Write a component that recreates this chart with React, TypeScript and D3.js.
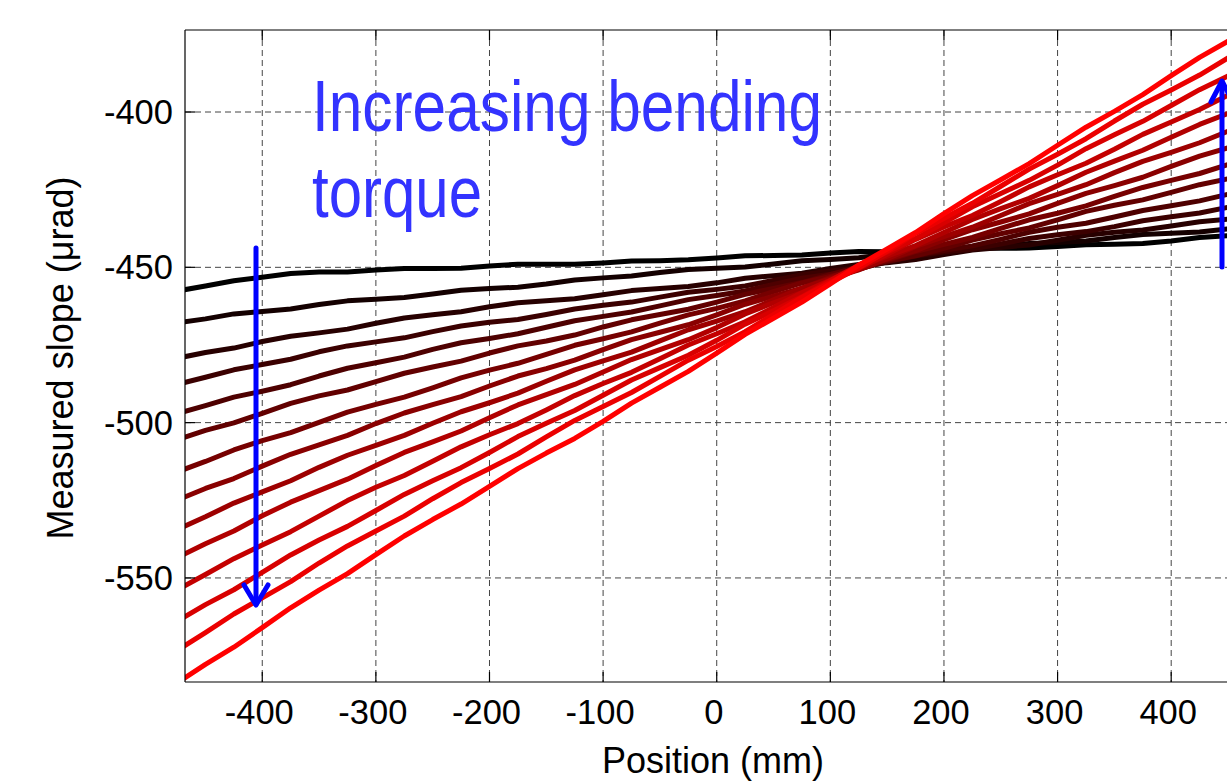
import React from "react";
import * as d3 from "d3";

const positions = [-470, -450, -425, -400, -375, -350, -325, -300, -275, -250, -225, -200, -175, -150, -125, -100, -75, -50, -25, 0, 25, 50, 75, 100, 125, 150, 175, 200, 225, 250, 275, 300, 325, 350, 375, 400, 425, 450];

const s1 = [-457.3, -456.0, -454.3, -453.2, -452.0, -451.5, -451.5, -450.9, -450.4, -450.4, -450.3, -449.6, -449.0, -449.0, -449.0, -448.6, -448.0, -447.9, -447.6, -447.0, -446.3, -446.2, -446.0, -445.4, -444.9, -445.0, -444.9, -444.4, -443.9, -443.9, -443.8, -443.3, -442.7, -442.6, -442.3, -441.5, -440.4, -439.8];
const s2 = [-467.6, -466.6, -465.0, -464.2, -463.4, -462.0, -460.8, -460.3, -459.7, -458.6, -457.4, -456.8, -456.4, -455.4, -454.1, -453.4, -452.8, -451.7, -450.7, -450.3, -449.9, -448.9, -447.9, -447.5, -446.9, -445.8, -444.9, -444.6, -444.2, -443.2, -442.3, -442.0, -441.5, -440.4, -439.4, -439.0, -438.6, -437.6];
const s3 = [-478.9, -477.4, -476.0, -473.9, -472.2, -471.1, -469.9, -468.0, -466.3, -465.3, -464.3, -462.7, -461.4, -460.8, -460.1, -458.8, -457.5, -456.8, -456.2, -455.0, -453.5, -452.7, -451.9, -450.4, -449.1, -448.5, -447.5, -445.9, -444.4, -443.6, -442.8, -441.3, -439.7, -438.7, -438.0, -436.7, -435.3, -434.5];
const s4 = [-487.2, -485.4, -483.0, -481.3, -479.6, -477.2, -475.3, -474.0, -472.7, -470.7, -468.9, -467.7, -466.8, -465.2, -463.4, -462.2, -461.2, -459.6, -458.0, -457.1, -456.0, -454.2, -452.4, -451.2, -450.1, -448.3, -446.4, -445.1, -444.1, -442.5, -440.7, -439.5, -438.5, -436.9, -435.0, -433.7, -432.5, -430.7];
const s5 = [-496.6, -494.5, -491.8, -489.9, -487.8, -485.0, -482.5, -480.7, -478.9, -476.4, -474.3, -472.9, -471.4, -469.3, -467.2, -465.8, -464.4, -462.4, -460.4, -459.1, -457.6, -455.5, -453.5, -452.2, -450.5, -448.2, -446.1, -444.6, -443.1, -441.0, -438.7, -437.1, -435.8, -433.8, -431.7, -430.2, -428.6, -426.5];
const s6 = [-504.9, -502.5, -500.1, -497.0, -493.8, -491.4, -489.5, -486.8, -484.1, -482.1, -480.2, -477.6, -475.3, -473.7, -471.8, -469.2, -466.9, -465.2, -463.5, -461.2, -458.7, -456.8, -454.9, -452.4, -449.9, -448.0, -446.3, -443.9, -441.2, -439.2, -437.3, -434.7, -432.0, -430.0, -428.3, -425.9, -423.4, -421.5];
const s7 = [-515.2, -512.5, -508.8, -505.8, -503.2, -499.9, -496.6, -494.1, -491.8, -488.8, -485.6, -483.1, -480.9, -478.0, -475.1, -473.0, -470.8, -468.0, -465.3, -463.2, -460.8, -457.8, -455.0, -452.9, -450.7, -447.8, -444.9, -442.6, -440.4, -437.5, -434.7, -432.6, -430.2, -427.2, -424.3, -422.0, -419.8, -416.9];
const s8 = [-524.2, -521.2, -518.0, -514.0, -510.2, -507.2, -504.1, -500.3, -496.9, -494.2, -491.6, -488.2, -485.0, -482.6, -479.9, -476.5, -473.3, -470.9, -468.5, -465.3, -461.9, -459.3, -456.7, -453.3, -450.0, -447.4, -444.6, -441.1, -437.9, -435.4, -432.8, -429.4, -426.2, -423.7, -421.0, -417.5, -414.2, -411.5];
const s9 = [-533.6, -530.3, -525.9, -522.3, -518.7, -514.4, -510.5, -507.3, -504.1, -500.2, -496.5, -493.6, -490.5, -486.7, -483.0, -480.1, -477.3, -473.7, -470.1, -467.3, -464.3, -460.5, -456.7, -453.7, -450.8, -447.2, -443.3, -440.1, -437.1, -433.3, -429.5, -426.5, -423.4, -419.5, -415.9, -413.0, -409.9, -406.2];
const s10 = [-542.6, -539.0, -534.9, -530.0, -525.6, -521.9, -518.2, -513.8, -509.6, -506.2, -502.7, -498.4, -494.3, -491.0, -487.7, -483.7, -479.7, -476.5, -473.3, -469.4, -465.0, -461.4, -458.1, -454.1, -449.9, -446.4, -443.0, -438.8, -434.6, -431.1, -427.8, -423.7, -419.4, -415.8, -412.3, -408.1, -404.0, -400.5];
const s11 = [-552.9, -548.9, -543.8, -539.4, -535.1, -530.1, -525.1, -520.8, -517.0, -512.4, -507.8, -503.9, -500.3, -495.9, -491.3, -487.4, -483.8, -479.4, -475.0, -471.4, -467.5, -462.9, -458.2, -454.3, -450.4, -445.8, -441.0, -437.0, -433.3, -428.8, -424.1, -420.2, -416.5, -412.0, -407.2, -403.2, -399.2, -394.6];
const s12 = [-562.9, -558.6, -553.8, -548.2, -542.6, -537.8, -533.4, -528.3, -523.1, -518.7, -514.5, -509.6, -504.5, -500.2, -496.1, -491.2, -486.3, -482.3, -478.3, -473.5, -468.3, -464.0, -459.5, -454.3, -449.3, -445.1, -440.8, -435.7, -430.5, -426.2, -422.0, -417.1, -411.8, -407.3, -403.0, -397.9, -392.8, -388.4];
const s13 = [-572.2, -567.6, -561.6, -556.4, -551.2, -545.2, -539.7, -534.9, -530.1, -524.5, -519.3, -514.8, -510.1, -504.6, -499.3, -494.8, -490.3, -485.1, -479.9, -475.5, -470.7, -465.2, -459.7, -454.9, -450.2, -444.8, -439.1, -434.2, -429.4, -423.9, -418.4, -413.6, -408.6, -402.9, -397.5, -392.9, -388.1, -382.6];
const s14 = [-582.6, -577.8, -572.3, -566.0, -559.6, -553.9, -548.6, -542.5, -536.5, -531.2, -526.2, -520.5, -514.8, -509.8, -505.1, -499.6, -493.7, -488.6, -483.5, -477.6, -471.6, -466.4, -461.2, -455.3, -449.3, -444.1, -438.8, -432.7, -426.9, -421.8, -416.6, -410.7, -404.9, -399.8, -394.4, -388.3, -382.4, -377.2];

const allSeries = [s1, s2, s3, s4, s5, s6, s7, s8, s9, s10, s11, s12, s13, s14];

const xTicks = [-400, -300, -200, -100, 0, 100, 200, 300, 400];
const yTicks = [-550, -500, -450, -400];

const W = 1227;
const H = 782;
const left = 185;
const right = 1228;
const top = 30;
const bottom = 682;

export default function App() {
  const x = d3.scaleLinear().domain([-468, 450]).range([left, right]);
  const y = d3.scaleLinear().domain([-583.5, -373.6]).range([bottom, top]);
  const line = d3
    .line<number>()
    .x((_, i) => x(positions[i]))
    .y((d) => y(d));
  const color = (i: number) => d3.rgb(Math.round((255 * i) / (allSeries.length - 1)), 0, 0).toString();
  const font = "'Liberation Sans', Arial, Helvetica, sans-serif";

  return (
    <svg
      width={W}
      height={H}
      style={{ position: "absolute", left: 0, top: 0, background: "#fff" }}
    >
      <defs>
        <clipPath id="plot">
          <rect x={left} y={top} width={right - left} height={bottom - top} />
        </clipPath>
      </defs>
      <rect x={0} y={0} width={W} height={H} fill="#fff" />
      <g stroke="#444" strokeWidth={1} strokeDasharray="6,4">
        {xTicks.map((t) => (
          <line key={"gx" + t} x1={x(t)} x2={x(t)} y1={top} y2={bottom} />
        ))}
        {yTicks.map((t) => (
          <line key={"gy" + t} x1={left} x2={right} y1={y(t)} y2={y(t)} />
        ))}
      </g>
      <g clipPath="url(#plot)" fill="none" strokeLinejoin="round" strokeLinecap="round">
        {allSeries.map((s, i) => (
          <path key={i} d={line(s) || ""} stroke={color(i)} strokeWidth={5} />
        ))}
      </g>
      <g stroke="#000" strokeWidth={1.2}>
        <line x1={left} x2={left} y1={top} y2={bottom} />
        <line x1={left} x2={W} y1={bottom} y2={bottom} />
        <line x1={left} x2={W} y1={top} y2={top} />
        {xTicks.map((t) => (
          <g key={"tx" + t}>
            <line x1={x(t)} x2={x(t)} y1={bottom} y2={bottom - 10} />
            <line x1={x(t)} x2={x(t)} y1={top} y2={top + 10} />
          </g>
        ))}
        {yTicks.map((t) => (
          <line key={"ty" + t} x1={left} x2={left + 10} y1={y(t)} y2={y(t)} />
        ))}
      </g>
      <g fontFamily={font} fontSize={34.5} fill="#000">
        {xTicks.map((t) => (
          <text key={"lx" + t} x={x(t) - 3} y={724} textAnchor="middle">
            {t}
          </text>
        ))}
        {yTicks.map((t) => (
          <text key={"ly" + t} x={173} y={y(t) + 12} textAnchor="end">
            {t}
          </text>
        ))}
      </g>
      <text x={713} y={773} textAnchor="middle" fontFamily={font} fontSize={36} fill="#000">
        Position (mm)
      </text>
      <text
        transform="translate(73,358) rotate(-90)"
        textAnchor="middle"
        fontFamily={font}
        fontSize={36}
        fill="#000"
      >
        Measured slope (μrad)
      </text>
      <g fontFamily={font} fontSize={72} fill="#3333ff">
        <text x={312} y={131} textLength={510} lengthAdjust="spacingAndGlyphs">
          Increasing bending
        </text>
        <text x={312} y={217} textLength={170} lengthAdjust="spacingAndGlyphs">
          torque
        </text>
      </g>
      <g stroke="#0000ff" strokeWidth={5} fill="none" strokeLinecap="round" strokeLinejoin="round">
        <line x1={256} x2={256} y1={248} y2={604} />
        <polyline points="244,585 256,605 268,585" />
        <line x1={1222} x2={1222} y1={267} y2={82} />
        <polyline points="1211,102 1222,81 1233,102" />
      </g>
    </svg>
  );
}
